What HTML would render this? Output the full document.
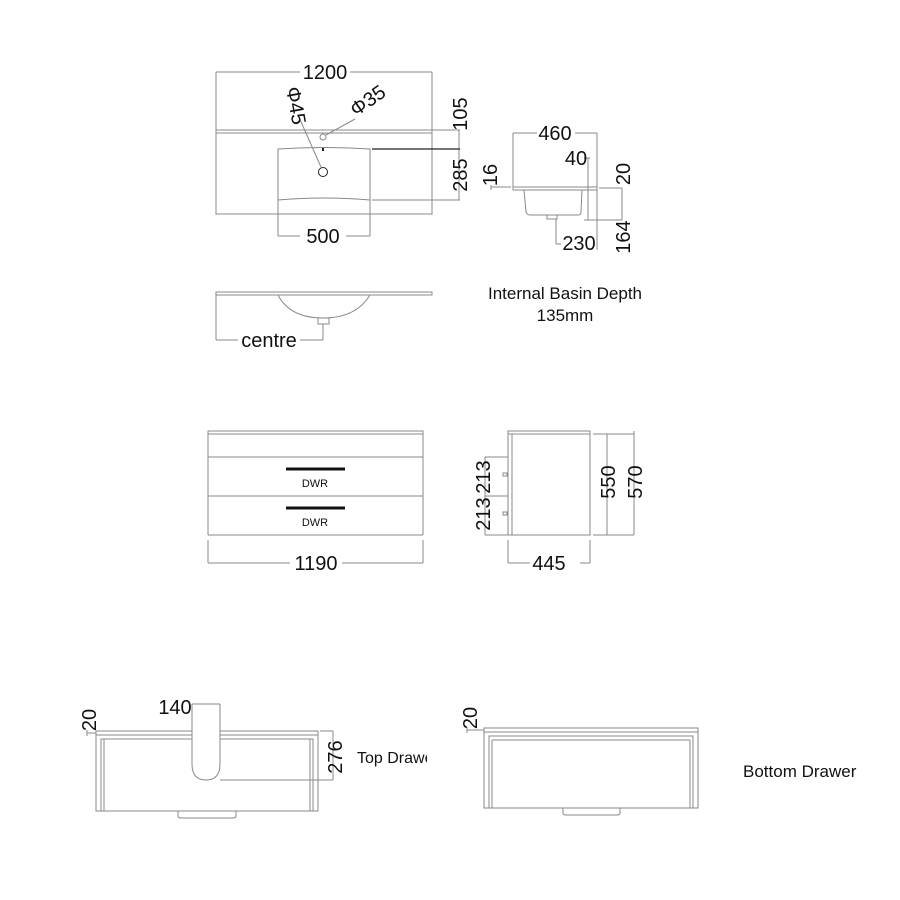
<!DOCTYPE html>
<html><head><meta charset="utf-8"><style>
html,body{margin:0;padding:0;background:#fff;}
svg{display:block;}
text{font-family:"Liberation Sans",sans-serif;fill:#111;}
.d{font-size:20px;}
</style></head><body>
<svg width="900" height="900" viewBox="0 0 900 900" xmlns="http://www.w3.org/2000/svg">
<g fill="none" stroke="#888" stroke-width="1">
<rect x="216" y="130" width="216" height="84"/>
<line x1="216" y1="133" x2="432" y2="133"/>
<line x1="216" y1="72" x2="216" y2="130"/><line x1="432" y1="72" x2="432" y2="130"/>
<line x1="216" y1="72" x2="300" y2="72"/><line x1="350" y1="72" x2="432" y2="72"/>
<path d="M278 149 Q324 146 370 149 L370 200 Q324 196 278 200 Z"/>
<circle cx="323" cy="137" r="3"/>
<circle cx="323" cy="172" r="4.5" stroke="#222"/>
<line x1="298" y1="115" x2="321" y2="167"/>
<line x1="355" y1="119" x2="326" y2="135"/>
<line x1="432" y1="130" x2="460" y2="130"/>
<line x1="372" y1="200" x2="460" y2="200"/>
<line x1="459" y1="130" x2="459" y2="200"/>
<line x1="278" y1="200" x2="278" y2="236"/><line x1="370" y1="200" x2="370" y2="236"/>
<line x1="278" y1="236" x2="300" y2="236"/><line x1="346" y1="236" x2="370" y2="236"/>
<line x1="513" y1="133" x2="513" y2="187"/><line x1="597" y1="133" x2="597" y2="250"/>
<line x1="513" y1="133" x2="537" y2="133"/><line x1="575" y1="133" x2="597" y2="133"/>
<rect x="513" y="187" width="84" height="3"/>
<line x1="491" y1="187" x2="511" y2="187"/><line x1="491" y1="185" x2="491" y2="190"/>
<path d="M524 190 L526 212 Q527 215 530 215 L578 215 Q581 215 581 212 L582 190"/>
<rect x="547" y="215" width="10" height="4"/>
<line x1="556" y1="219" x2="556" y2="244"/><line x1="556" y1="244" x2="561" y2="244"/>
<line x1="588" y1="158" x2="588" y2="220"/><line x1="584" y1="158" x2="590" y2="158"/>
<line x1="599" y1="188" x2="622" y2="188"/><line x1="584" y1="220" x2="622" y2="220"/>
<line x1="622" y1="188" x2="622" y2="220"/>
<rect x="216" y="292" width="216" height="3"/>
<path d="M278 295 Q290 318 323 318 Q356 318 370 295"/>
<rect x="318" y="318" width="11" height="6"/>
<line x1="216" y1="295" x2="216" y2="340"/><line x1="216" y1="340" x2="238" y2="340"/>
<line x1="300" y1="340" x2="323" y2="340"/><line x1="323" y1="324" x2="323" y2="340"/>
<rect x="208" y="431" width="215" height="3"/>
<line x1="208" y1="434" x2="208" y2="535"/><line x1="423" y1="434" x2="423" y2="535"/>
<line x1="208" y1="457" x2="423" y2="457"/><line x1="208" y1="496" x2="423" y2="496"/>
<line x1="208" y1="535" x2="423" y2="535"/>
<line x1="208" y1="540" x2="208" y2="563"/><line x1="423" y1="540" x2="423" y2="563"/>
<line x1="208" y1="563" x2="290" y2="563"/><line x1="342" y1="563" x2="423" y2="563"/>
<rect x="508" y="431" width="82" height="3"/>
<rect x="508" y="434" width="82" height="101"/>
<line x1="512" y1="434" x2="512" y2="535"/>
<line x1="485" y1="457" x2="508" y2="457"/><line x1="485" y1="496" x2="508" y2="496"/><line x1="485" y1="535" x2="508" y2="535"/>
<line x1="485" y1="457" x2="485" y2="535"/>
<rect x="503" y="473" width="4" height="3"/><rect x="503" y="512" width="4" height="3"/>
<line x1="593" y1="434" x2="634" y2="434"/><line x1="593" y1="535" x2="634" y2="535"/>
<line x1="607" y1="434" x2="607" y2="535"/><line x1="634" y1="431" x2="634" y2="535"/>
<line x1="508" y1="540" x2="508" y2="563"/><line x1="590" y1="540" x2="590" y2="563"/>
<line x1="508" y1="563" x2="530" y2="563"/><line x1="580" y1="563" x2="590" y2="563"/>
<rect x="96" y="731" width="222" height="80"/>
<line x1="96" y1="735" x2="318" y2="735"/>
<rect x="101" y="739" width="212" height="72"/>
<line x1="104" y1="739" x2="104" y2="811"/><line x1="310" y1="739" x2="310" y2="811"/>
<path d="M192 704 L192 764 Q192 780 206 780 Q220 780 220 764 L220 704" fill="#fff"/>
<line x1="192" y1="704" x2="220" y2="704"/>
<line x1="320" y1="731" x2="333" y2="731"/><line x1="220" y1="780" x2="333" y2="780"/>
<line x1="333" y1="731" x2="333" y2="780"/>
<path d="M178 811 L178 816 Q178 818 181 818 L233 818 Q236 818 236 816 L236 811"/>
<line x1="87" y1="733" x2="96" y2="733"/><line x1="87" y1="730" x2="87" y2="736"/>
<rect x="484" y="728" width="214" height="80"/>
<line x1="484" y1="732" x2="698" y2="732"/>
<rect x="489" y="736" width="204" height="72"/>
<line x1="492" y1="740" x2="690" y2="740"/>
<line x1="492" y1="740" x2="492" y2="808"/><line x1="690" y1="740" x2="690" y2="808"/>
<path d="M563 808 L563 813 Q563 815 566 815 L617 815 Q620 815 620 813 L620 808"/>
<line x1="467" y1="730" x2="484" y2="730"/><line x1="467" y1="727" x2="467" y2="733"/>
</g>
<line x1="372" y1="149" x2="460" y2="149" stroke="#222" stroke-width="1.2"/>
<rect x="322" y="148" width="2" height="3" fill="#222"/>
<line x1="286" y1="469" x2="345" y2="469" stroke="#111" stroke-width="3"/>
<line x1="286" y1="508" x2="345" y2="508" stroke="#111" stroke-width="3"/>
<text class="d" x="325" y="79" text-anchor="middle">1200</text>
<text class="d" transform="translate(286,88) rotate(80)">Φ45</text>
<text class="d" transform="translate(356,117) rotate(-35)">Φ35</text>
<text class="d" transform="translate(467,114) rotate(-90)" text-anchor="middle">105</text>
<text class="d" transform="translate(467,175) rotate(-90)" text-anchor="middle">285</text>
<text class="d" x="323" y="243" text-anchor="middle">500</text>
<text class="d" x="555" y="140" text-anchor="middle">460</text>
<text class="d" x="576" y="165" text-anchor="middle">40</text>
<text class="d" transform="translate(497,175) rotate(-90)" text-anchor="middle">16</text>
<text class="d" transform="translate(630,174) rotate(-90)" text-anchor="middle">20</text>
<text class="d" x="579" y="250" text-anchor="middle">230</text>
<text class="d" transform="translate(630,237) rotate(-90)" text-anchor="middle">164</text>
<text x="565" y="299" font-size="17" text-anchor="middle">Internal Basin Depth</text>
<text x="565" y="321" font-size="17" text-anchor="middle">135mm</text>
<text class="d" x="269" y="347" text-anchor="middle">centre</text>
<text x="315" y="487" font-size="11" text-anchor="middle" fill="#444">DWR</text>
<text x="315" y="526" font-size="11" text-anchor="middle" fill="#444">DWR</text>
<text class="d" x="316" y="570" text-anchor="middle">1190</text>
<text class="d" transform="translate(490,477) rotate(-90)" text-anchor="middle">213</text>
<text class="d" transform="translate(490,514) rotate(-90)" text-anchor="middle">213</text>
<text class="d" transform="translate(615,482) rotate(-90)" text-anchor="middle">550</text>
<text class="d" transform="translate(642,482) rotate(-90)" text-anchor="middle">570</text>
<text class="d" x="549" y="570" text-anchor="middle">445</text>
<text class="d" x="175" y="714" text-anchor="middle">140</text>
<text class="d" transform="translate(96,720) rotate(-90)" text-anchor="middle">20</text>
<text class="d" transform="translate(342,757) rotate(-90)" text-anchor="middle">276</text>
<svg x="357" y="740" width="70" height="30"><text x="0" y="23" font-size="16">Top Drawer</text></svg>
<text class="d" transform="translate(477,718) rotate(-90)" text-anchor="middle">20</text>
<text x="743" y="777" font-size="17">Bottom Drawer</text>
</svg>
</body></html>
